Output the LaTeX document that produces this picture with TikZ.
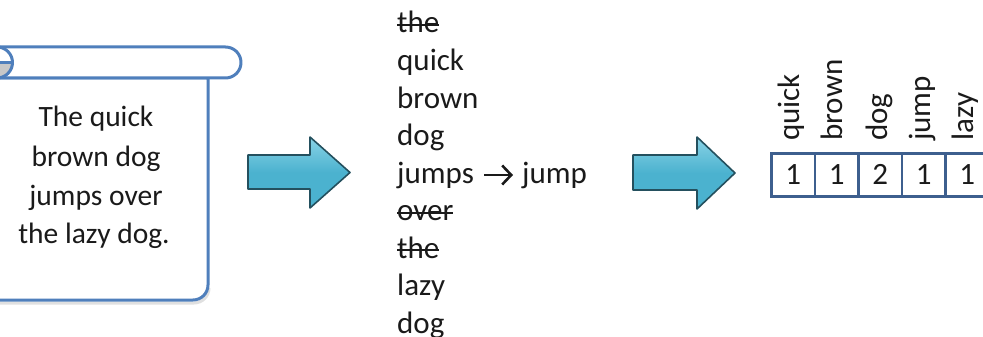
\documentclass[tikz,border=0pt]{standalone}
\usepackage{fontspec}
\setmainfont{Carlito}
\usetikzlibrary{arrows.meta}
\definecolor{scrollblue}{HTML}{4F7FBC}
\definecolor{arrowfill}{HTML}{4BB2CF}
\definecolor{arrowlight}{HTML}{8AD3E6}
\definecolor{arrowedge}{HTML}{24505E}
\definecolor{tableblue}{HTML}{3D5F8E}
\definecolor{inkc}{HTML}{1A1A1A}
\definecolor{curlgray}{HTML}{C8C8C8}
\newcommand\strk[1]{\sbox0{#1}\rlap{\rule[0.22em]{\wd0}{1.8pt}}\usebox0}
\begin{document}
\begin{tikzpicture}[x=1pt,y=-1pt,
  txt/.style={inner sep=0pt, text=inkc, font=\fontsize{31}{38}\selectfont},
  word/.style={txt, anchor=base west},
  ltext/.style={txt, anchor=base, font=\fontsize{29.5}{36}\selectfont},
  vlabel/.style={txt, rotate=90, anchor=base west},
  cellbox/.style={draw=tableblue, line width=2.8pt, minimum width=43.5pt, minimum height=43pt, inner sep=0pt, anchor=north west, text=inkc, font=\fontsize{31}{38}\selectfont},
  blockarrow/.style={draw=arrowedge, line width=1.6pt, line join=round, top color=arrowlight, bottom color=arrowfill, middle color=arrowfill},
  scrollline/.style={draw=scrollblue, line width=3pt, line join=round},
  stemarrow/.style={draw=inkc, line width=2.6pt, -{Straight Barb[length=9pt, width=19pt, line width=2.6pt]}}
]
\useasboundingbox (0,0) rectangle (983,337);
% scroll shadow
\draw[black!12, line width=3pt] (-20,303) -- (194,303) arc[start angle=90, end angle=0, radius=15];
% scroll body
\path[scrollline, fill=white] (-20,78) -- (208,78) -- (208,285) arc[start angle=0, end angle=90, radius=15] -- (-20,300) -- cycle;
% top bar
\path[scrollline, fill=white] (-3,47) -- (225.5,47) arc[start angle=-90, end angle=90, radius=15.5] -- (-3,78) -- cycle;
% left curl
\fill[curlgray] (-18.5,62.5) -- (12.5,62.5) arc[start angle=0, end angle=180, radius=15.5] -- cycle;
\path[scrollline] (-3,62.5) circle[radius=15.5];
\draw[scrollblue, line width=2.2pt] (-18.5,62.5) -- (12.5,62.5);
% scroll text
\node[ltext] (l1) at (96,126.7) {The quick};
\node[ltext] (l2) at (96,166) {brown dog};
\node[ltext] (l3) at (96,205) {jumps over};
\node[ltext] (l4) at (94,243.5) {the lazy dog.};
% arrows
\path[blockarrow] (248,155) -- (310,155) -- (310,137) -- (350,172.5) -- (310,208) -- (310,189) -- (248,189) -- cycle;
\path[blockarrow] (633,155) -- (697,155) -- (697,137) -- (735,173) -- (697,209) -- (697,190) -- (633,190) -- cycle;
% word list
\node[word] (w1) at (397,33) {\strk{the}};
\node[word] (w2) at (397,70.5) {quick};
\node[word] (w3) at (397,108) {brown};
\node[word] (w4) at (397,145.5) {dog};
\node[word] (w5) at (397,183) {jumps};
\node[word] (w5b) at (522,183) {jump};
\coordinate (a5) at ([xshift=10pt, yshift=8pt]w5.base east);
\coordinate (b5) at ([xshift=-9pt, yshift=8pt]w5b.base west);
\draw[stemarrow] (a5) -- (b5);
\node[word] (w6) at (397,220.5) {\strk{over}};
\node[word] (w7) at (397,258) {\strk{the}};
\node[word] (w8) at (397,295.5) {lazy};
\node[word] (w9) at (397,333) {dog};
% table
\node[cellbox] (c1) at (770,152) {1};
\node[cellbox] (c2) at (813.5,152) {1};
\node[cellbox] (c3) at (857,152) {2};
\node[cellbox] (c4) at (900.5,152) {1};
\node[cellbox] (c5) at (944,152) {1};
% vertical labels
\node[vlabel] (v1) at (799,141) {quick};
\node[vlabel] (v2) at (842,141) {brown};
\node[vlabel] (v3) at (887,141) {dog};
\node[vlabel] (v4) at (930,141) {jump};
\node[vlabel] (v5) at (973,141) {lazy};
\end{tikzpicture}
\end{document}
